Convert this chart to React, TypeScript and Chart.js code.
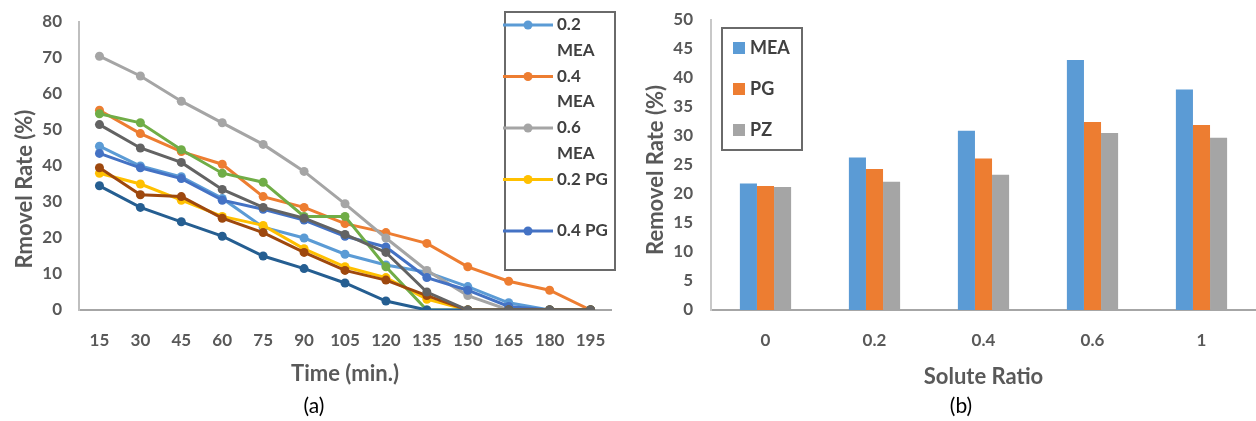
import React, { useEffect, useRef } from "react";
import { Chart, registerables } from "chart.js";

Chart.register(...registerables);

// ---------- Data: panel (a) ----------
const timeLabels = ["15", "30", "45", "60", "75", "90", "105", "120", "135", "150", "165", "180", "195"];
const lineLabels = ["0.2 MEA", "0.4 MEA", "0.6 MEA", "0.2 PG", "0.4 PG", "0.6 PG", "0.2 PZ", "0.4 PZ", "0.6 PZ"];
const mea02 = [45.5, 40, 37, 31, 23, 20, 15.5, 12.5, 10.5, 6.5, 2, 0, 0];
const mea04 = [55.5, 49, 44, 40.5, 31.5, 28.5, 24, 21.5, 18.5, 12, 8, 5.5, 0];
const mea06 = [70.5, 65, 58, 52, 46, 38.5, 29.5, 20, 11, 4, 0, 0, 0];
const pg02 = [38, 35, 30.5, 26, 23.5, 17, 12, 9, 3, 0, 0, 0, 0];
const pg04 = [43.5, 39.5, 36.5, 30.5, 28, 25, 20.5, 17.5, 9, 5.5, 1, 0, 0];
const pg06 = [54.5, 52, 44.5, 38, 35.5, 26, 26, 12, 0, 0, 0, 0, 0];
const pz02 = [34.5, 28.5, 24.5, 20.5, 15, 11.5, 7.5, 2.5, 0, 0, 0, 0, 0];
const pz04 = [39.5, 32, 31.5, 25.5, 21.5, 16, 11, 8.3, 4, 0, 0, 0, 0];
const pz06 = [51.5, 45, 41, 33.5, 28.5, 25.5, 21, 16, 5, 0, 0, 0, 0];
const lineSeries = [mea02, mea04, mea06, pg02, pg04, pg06, pz02, pz04, pz06];
const lineColors = ["#5B9BD5", "#ED7D31", "#A5A5A5", "#FFC000", "#4472C4", "#70AD47", "#255E91", "#9E480E", "#636363"];
const legendCountA = 5;
const yTitleA = "Rmovel Rate (%)";
const xTitleA = "Time (min.)";

// ---------- Data: panel (b) ----------
const ratioLabels = ["0", "0.2", "0.4", "0.6", "1"];
const barLabels = ["MEA", "PG", "PZ"];
const meaBars = [21.8, 26.3, 30.9, 43.1, 38.0];
const pgBars = [21.4, 24.3, 26.1, 32.4, 31.9];
const pzBars = [21.2, 22.1, 23.3, 30.5, 29.7];
const barSeries = [meaBars, pgBars, pzBars];
const barColors = ["#5B9BD5", "#ED7D31", "#A5A5A5"];
const yTitleB = "Removel Rate (%)";
const xTitleB = "Solute Ratio";

const FONT = "Lato, 'Open Sans', sans-serif";
const TXT = "#595959";

type LegendCfg = {
  box: { x: number; y: number; w: number; h: number };
  kind: "line" | "square";
  count: number;
  firstY: number;
  step: number;
  lineH: number;
  textX: number;
  markX: number;
  wrapW: number;
  fontSize: number;
};

function makeLegend(id: string, cfg: LegendCfg) {
  return {
    id,
    afterDraw(chart: any) {
      const ctx = chart.ctx as CanvasRenderingContext2D;
      const { box } = cfg;
      ctx.save();
      ctx.fillStyle = "#ffffff";
      ctx.fillRect(box.x, box.y, box.w, box.h);
      ctx.strokeStyle = "#6a6a6a";
      ctx.lineWidth = 2;
      ctx.strokeRect(box.x, box.y, box.w, box.h);
      ctx.font = `bold ${cfg.fontSize}px ${FONT}`;
      ctx.textBaseline = "middle";
      ctx.textAlign = "left";
      const dsets = chart.data.datasets;
      for (let i = 0; i < Math.min(cfg.count, dsets.length); i++) {
        const ds = dsets[i];
        const y = cfg.firstY + cfg.step * i;
        const color = ds.borderColor || ds.backgroundColor;
        if (cfg.kind === "line") {
          ctx.strokeStyle = color;
          ctx.lineWidth = 3;
          ctx.beginPath();
          ctx.moveTo(cfg.markX, y);
          ctx.lineTo(cfg.markX + 50, y);
          ctx.stroke();
          ctx.fillStyle = color;
          ctx.beginPath();
          ctx.arc(cfg.markX + 25, y, 4.5, 0, Math.PI * 2);
          ctx.fill();
        } else {
          ctx.fillStyle = ds.backgroundColor;
          ctx.fillRect(cfg.markX, y - 6, 12, 12);
        }
        const words = String(ds.label).split(" ");
        const lines: string[] = [];
        let cur = "";
        for (const w of words) {
          const t = cur ? cur + " " + w : w;
          if (cur && ctx.measureText(t).width > cfg.wrapW) {
            lines.push(cur);
            cur = w;
          } else cur = t;
        }
        if (cur) lines.push(cur);
        ctx.fillStyle = "#404040";
        lines.forEach((ln, k) => ctx.fillText(ln, cfg.textX, y + k * cfg.lineH));
      }
      ctx.restore();
    },
  };
}

function makeYTitle(id: string, text: string, x: number, y: number, size: number) {
  return {
    id,
    afterDraw(chart: any) {
      const ctx = chart.ctx as CanvasRenderingContext2D;
      ctx.save();
      ctx.translate(x, y);
      ctx.rotate(-Math.PI / 2);
      ctx.font = `bold ${size}px ${FONT}`;
      ctx.fillStyle = TXT;
      ctx.textAlign = "center";
      ctx.textBaseline = "middle";
      ctx.fillText(text, 0, 0);
      ctx.restore();
    },
  };
}

const tickFont = { family: FONT, size: 17, weight: "bold" };
const titleFont = { family: FONT, size: 22, weight: "bold" };

function LineChartA() {
  const ref = useRef<HTMLCanvasElement>(null);
  useEffect(() => {
    const chart = new Chart(ref.current!, {
      type: "line",
      data: {
        labels: timeLabels,
        datasets: lineSeries.map((d, i) => ({
          label: lineLabels[i],
          data: d,
          order: -i,
          borderColor: lineColors[i],
          backgroundColor: lineColors[i],
          borderWidth: 3,
          pointRadius: 4.5,
          pointBorderWidth: 0,
          pointBackgroundColor: lineColors[i],
          tension: 0,
        })),
      },
      options: {
        responsive: false,
        animation: false,
        layout: { padding: { top: 22, right: 19, left: 0, bottom: 0 } },
        plugins: { legend: { display: false }, tooltip: { enabled: false } },
        scales: {
          x: {
            type: "category",
            offset: true,
            grid: { display: false, drawTicks: false },
            border: { display: true, color: "#A6A6A6", width: 2 },
            ticks: { color: TXT, font: tickFont, padding: 20, maxRotation: 0, autoSkip: false },
            title: { display: true, text: xTitleA, color: TXT, font: titleFont, padding: { top: 0, bottom: 34 } },
            afterFit: (s: any) => { s.height = 111; s.paddingLeft = 0; s.paddingRight = 0; },
          },
          y: {
            min: 0,
            max: 80,
            grid: { display: false, drawTicks: false },
            border: { display: true, color: "#BFBFBF", width: 2 },
            ticks: { stepSize: 10, color: TXT, font: tickFont, padding: 17 },
            afterFit: (s: any) => { s.width = 79; s.paddingTop = 0; s.paddingBottom = 0; },
          },
        },
      },
      plugins: [
        makeYTitle("yTitleA", yTitleA, 25, 189, 22),
        makeLegend("legendA", {
          box: { x: 505, y: 12, w: 110, h: 258 },
          kind: "line",
          count: legendCountA,
          firstY: 25,
          step: 51.5,
          lineH: 25.5,
          textX: 557,
          markX: 503,
          wrapW: 55,
          fontSize: 17,
        }),
      ],
    } as any);
    return () => chart.destroy();
  }, []);
  return <canvas ref={ref} width={630} height={421} style={{ position: "absolute", left: 0, top: 0 }} />;
}

function BarChartB() {
  const ref = useRef<HTMLCanvasElement>(null);
  useEffect(() => {
    const chart = new Chart(ref.current!, {
      type: "bar",
      data: {
        labels: ratioLabels,
        datasets: barSeries.map((d, i) => ({
          label: barLabels[i],
          data: d,
          backgroundColor: barColors[i],
          borderWidth: 0,
          categoryPercentage: 0.47,
          barPercentage: 1.0,
        })),
      },
      options: {
        responsive: false,
        animation: false,
        layout: { padding: { top: 20, right: 0, left: 0, bottom: 0 } },
        plugins: { legend: { display: false }, tooltip: { enabled: false } },
        scales: {
          x: {
            grid: { display: false, drawTicks: false },
            border: { display: true, color: "#A6A6A6", width: 2 },
            ticks: { color: TXT, font: tickFont, padding: 20, maxRotation: 0 },
            title: { display: true, text: xTitleB, color: TXT, font: titleFont, padding: { top: 0, bottom: 31 } },
            afterFit: (s: any) => { s.height = 111; s.paddingLeft = 0; s.paddingRight = 0; },
          },
          y: {
            min: 0,
            max: 50,
            grid: { display: false, drawTicks: false },
            border: { display: true, color: "#C8C8C8", width: 2 },
            ticks: { stepSize: 5, color: TXT, font: tickFont, padding: 18 },
            afterFit: (s: any) => { s.width = 81; s.paddingTop = 0; s.paddingBottom = 0; },
          },
        },
      },
      plugins: [
        makeYTitle("yTitleB", yTitleB, 26, 170, 22),
        makeLegend("legendB", {
          box: { x: 92, y: 28, w: 80, h: 122 },
          kind: "square",
          count: 3,
          firstY: 48,
          step: 41,
          lineH: 20,
          textX: 120,
          markX: 103,
          wrapW: 200,
          fontSize: 18,
        }),
      ],
    } as any);
    return () => chart.destroy();
  }, []);
  return <canvas ref={ref} width={626} height={421} style={{ position: "absolute", left: 630, top: 0 }} />;
}

export default function App() {
  const cap = { position: "absolute" as const, top: 392, width: 60, textAlign: "center" as const, fontFamily: FONT, fontSize: 21, lineHeight: "26px", color: "#000" };
  return (
    <div style={{ position: "absolute", left: 0, top: 0, width: 1256, height: 421, background: "#fff", overflow: "hidden" }}>
      <LineChartA />
      <BarChartB />
      <div style={{ ...cap, left: 284 }}>(a)</div>
      <div style={{ ...cap, left: 931 }}>(b)</div>
    </div>
  );
}
